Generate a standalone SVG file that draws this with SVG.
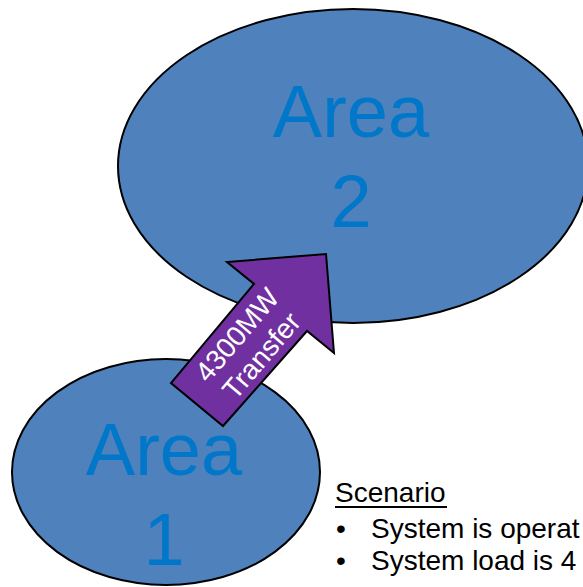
<svg xmlns="http://www.w3.org/2000/svg" width="583" height="587" viewBox="0 0 583 587">
<style>
.area{fill:#4F81BD;stroke:#000;stroke-width:2}
.areatxt{font-family:"Liberation Sans",Arial,sans-serif;font-size:74px;fill:#0077C8;text-anchor:middle}
.arrow{fill:#7030A0;stroke:#000;stroke-width:2;stroke-linejoin:miter}
.arrtxt{font-family:"Liberation Sans",Arial,sans-serif;font-size:28px;fill:#fff;text-anchor:middle}
.body{font-family:"Liberation Sans",Arial,sans-serif;font-size:28px;fill:#000}
</style>
<rect width="583" height="587" fill="#fff"/>
<g id="area2">
<ellipse class="area" cx="353" cy="166" rx="235" ry="157"/>
<text class="areatxt" x="351" y="137">Area</text>
<text class="areatxt" x="351" y="227">2</text>
</g>
<g id="area1">
<ellipse class="area" cx="166" cy="472" rx="154" ry="113"/>
<text class="areatxt" x="164" y="475">Area</text>
<text class="areatxt" x="164" y="565">1</text>
</g>
<g id="connectors">
<g id="transfer">
<polygon class="arrow" points="326,254 334,353 307,331 223,426 171,383 254,284 227,262"/>
<g transform="rotate(-49.6 249 345)">
<text class="arrtxt" x="249" y="339">4300MW</text>
<text class="arrtxt" x="249" y="371">Transfer</text>
</g>
</g>
</g>
<g id="scenario">
<text class="body" x="335" y="502">Scenario</text>
<line x1="335" y1="507" x2="447" y2="507" stroke="#000" stroke-width="2"/>
<text class="body" x="336" y="538">•</text>
<text class="body" x="371" y="538">System is operat</text>
<text class="body" x="336" y="570">•</text>
<text class="body" x="371" y="570">System load is 4</text>
</g>
</svg>
